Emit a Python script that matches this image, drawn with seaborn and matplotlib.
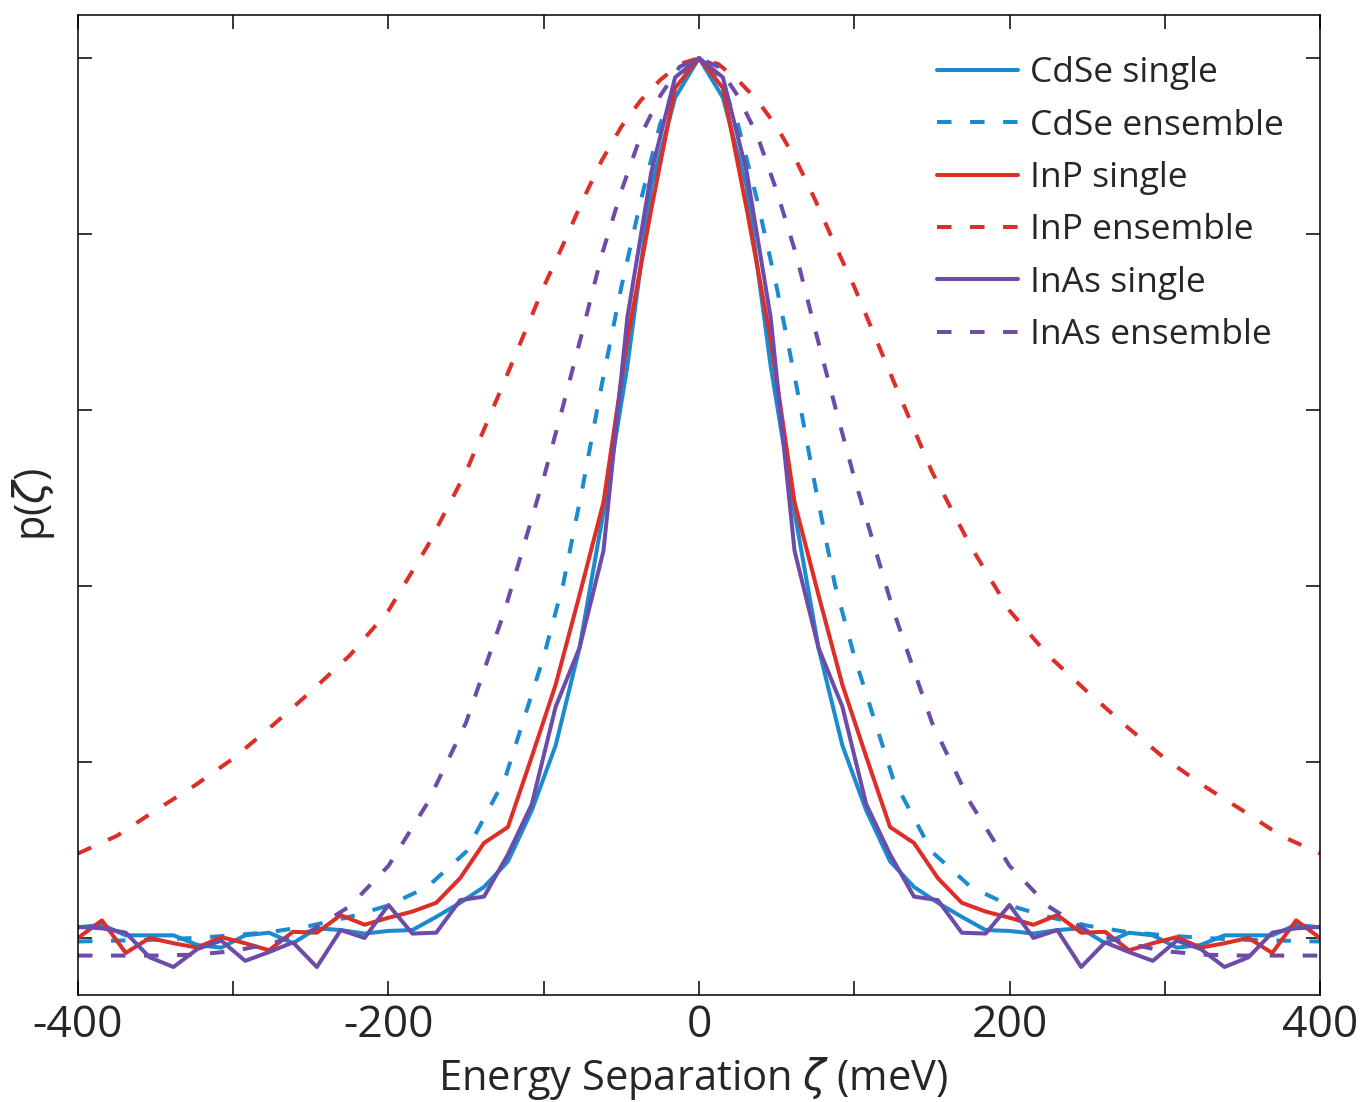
import numpy as np
import pandas as pd
import seaborn as sns
import matplotlib.pyplot as plt

# single-dot histograms: bin centres from -400 to 0 meV (mirror symmetric about 0)
n_bins_half = 27
cdse_single_half = [0.012, 0.015, 0.003, 0.003, 0.003, -0.008, -0.011, 0.003, 0.006, -0.006,
                    0.011, 0.009, 0.005, 0.008, 0.009, 0.024, 0.040, 0.058, 0.087, 0.145,
                    0.219, 0.330, 0.484, 0.650, 0.853, 0.955, 1.0]
inp_single_half = [0.0, 0.020, -0.017, 0.0, -0.006, -0.011, 0.001, -0.006, -0.014, 0.007,
                   0.006, 0.026, 0.015, 0.023, 0.030, 0.040, 0.068, 0.108, 0.126, 0.206,
                   0.288, 0.390, 0.495, 0.680, 0.828, 0.966, 1.0]
inas_single_half = [0.0125, 0.011, 0.006, -0.022, -0.033, -0.0125, -0.003, -0.026, -0.016, -0.005,
                    -0.033, 0.009, 0.0, 0.0375, 0.005, 0.006, 0.043, 0.047, 0.095, 0.152,
                    0.263, 0.330, 0.440, 0.705, 0.870, 0.978, 1.0]

# ensemble curves, read at these energies (meV), left half
ens_energy_half = [-400, -375, -350, -325, -300, -275, -250, -225, -200, -175, -150,
                   -125, -100, -87.5, -75, -62.5, -50, -37.5, -25, -12.5, 0]
cdse_ens_half = [-0.004, -0.003, -0.002, 0.0, 0.003, 0.007, 0.014, 0.024, 0.037, 0.058, 0.098,
                 0.181, 0.320, 0.402, 0.512, 0.630, 0.740, 0.838, 0.925, 0.980, 1.0]
inp_ens_half = [0.096, 0.116, 0.145, 0.173, 0.204, 0.241, 0.280, 0.321, 0.372, 0.445, 0.530,
                0.634, 0.740, 0.788, 0.838, 0.884, 0.922, 0.952, 0.975, 0.993, 1.0]
inas_ens_half = [-0.020, -0.020, -0.020, -0.019, -0.015, -0.006, 0.008, 0.036, 0.082, 0.153, 0.245,
                 0.373, 0.523, 0.605, 0.690, 0.777, 0.849, 0.912, 0.957, 0.990, 1.0]

labels = ['CdSe single', 'CdSe ensemble', 'InP single', 'InP ensemble',
          'InAs single', 'InAs ensemble']
colors = {'CdSe': '#1B8BD0', 'InP': '#DD2E28', 'InAs': '#6D4BA8'}


def mirror(vals):
    vals = list(vals)
    return vals + vals[-2::-1]


x_single = np.linspace(-400, 400, 2 * n_bins_half - 1)
x_ens = np.array(mirror(ens_energy_half), dtype=float)
x_ens[len(ens_energy_half):] *= -1

series = {
    'CdSe single': (x_single, mirror(cdse_single_half)),
    'CdSe ensemble': (x_ens, mirror(cdse_ens_half)),
    'InP single': (x_single, mirror(inp_single_half)),
    'InP ensemble': (x_ens, mirror(inp_ens_half)),
    'InAs single': (x_single, mirror(inas_single_half)),
    'InAs ensemble': (x_ens, mirror(inas_ens_half)),
}

sns.set_style('ticks')
plt.rcParams['font.family'] = ['Open Sans', 'DejaVu Sans']
plt.rcParams['mathtext.fontset'] = 'dejavusans'

fig = plt.figure(figsize=(13.61, 11.02), dpi=100)
ax = fig.add_axes([0.0573, 0.0971, 0.9126, 0.8893])

for name in labels:
    xs, ys = series[name]
    df = pd.DataFrame({'E': xs, 'p': ys})
    mat = name.split()[0]
    ls = '-' if 'single' in name else (0, (3.6, 4.6))
    sns.lineplot(data=df, x='E', y='p', ax=ax, color=colors[mat], linestyle=ls,
                 linewidth=2.9, label=name, estimator=None, sort=False)

ax.set_xlim(-400, 400)
ax.set_ylim(-0.0648, 1.0489)
ax.set_xticks(np.arange(-400, 401, 100))
ax.set_xticklabels(['-400', '', '-200', '', '0', '', '200', '', '400'])
ax.set_yticks([0, 0.2, 0.4, 0.6, 0.8, 1.0])
ax.set_yticklabels([])
ax.tick_params(direction='in', length=10, width=1.1, top=True, right=True,
               labelsize=32, pad=6, color='black')
for sp in ax.spines.values():
    sp.set_linewidth(1.1)
    sp.set_color('black')
    sp.set_visible(True)

ax.set_xlabel(r'Energy Separation $\zeta$ (meV)', fontsize=30, labelpad=5)
ax.set_ylabel(r'p($\zeta$)', fontsize=30)
ax.yaxis.set_label_coords(-0.017, 0.5)
ax.xaxis.label.set_x(0.495)

ax.legend(loc='upper left', bbox_to_anchor=(0.6916, 0.958), frameon=False,
          fontsize=25.5, borderpad=0, handlelength=2.3, handletextpad=0.33,
          labelspacing=0.52, borderaxespad=0)

fig.savefig('out.png', dpi=100)
